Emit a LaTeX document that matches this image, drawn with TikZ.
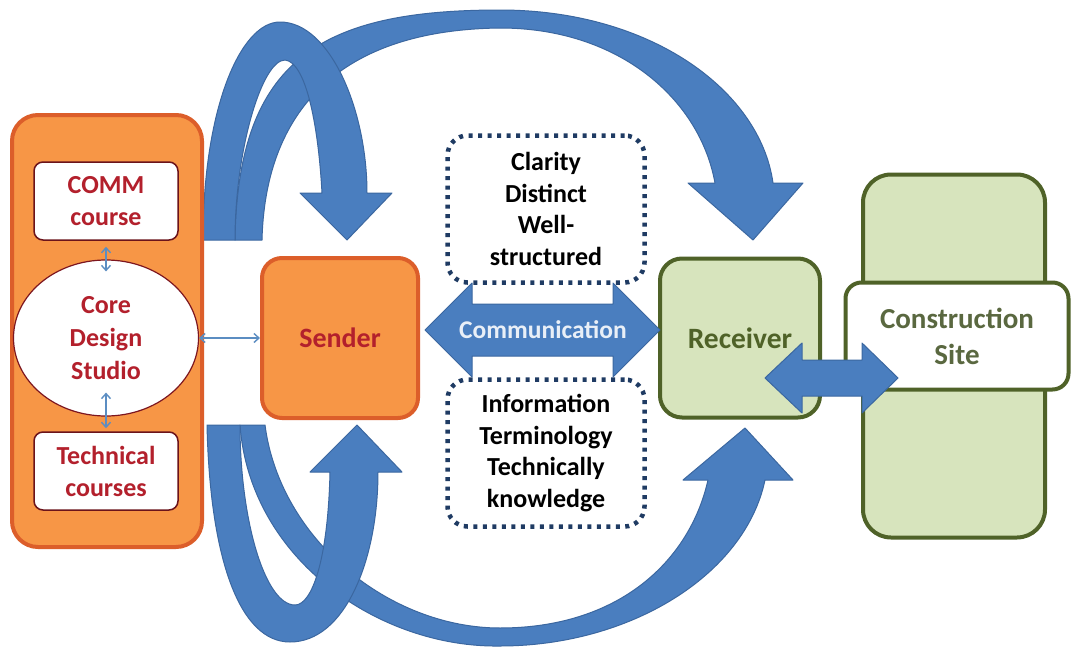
\documentclass[tikz,border=0pt]{standalone}
\usepackage{fontspec}
\setmainfont{Carlito}
\usepackage{tikz}
\usetikzlibrary{arrows.meta,shapes.geometric}

\definecolor{boxorange}{HTML}{F79646}
\definecolor{orangeline}{HTML}{DC5E2A}
\definecolor{leafgreen}{HTML}{D7E4BD}
\definecolor{oliveline}{HTML}{4F6228}
\definecolor{arrowblue}{HTML}{4A7EBF}
\definecolor{arrowline}{HTML}{3B67A0}
\definecolor{thinblue}{HTML}{5B8DC2}
\definecolor{dotnavy}{HTML}{1F3B63}
\definecolor{textred}{HTML}{B3202C}
\definecolor{sitetext}{HTML}{5A6840}
\newcommand{\boxfont}[2]{\fontsize{#1}{#2}\selectfont\bfseries}

\begin{document}
\begin{tikzpicture}[x=1pt,y=-1pt,>={Straight Barb[length=5pt,width=9pt]},
    bluearrow/.style={fill=arrowblue,draw=arrowline,line width=1pt,line join=round},
    thinarrow/.style={<->,draw=thinblue,line width=1.4pt},
    coursebox/.style={draw=textred!60!black,fill=white,rounded corners=9pt,line width=1.5pt,
      minimum width=144pt,minimum height=78pt,align=center,text=textred,font=\boxfont{26}{32}},
    notebox/.style={draw=dotnavy,line width=4.5pt,dash pattern=on 4pt off 5.5pt,rounded corners=20pt,
      minimum width=197pt,minimum height=147pt,align=center,font=\boxfont{26}{31.5}},
    greenbox/.style={draw=oliveline,fill=leafgreen,line width=4pt,rounded corners=22pt}]
  \fill[white] (0,0) rectangle (1072,648);
  \useasboundingbox (0,0) rectangle (1072,648);

  % big loop over the top, towards the receiver
  \filldraw[bluearrow] (235,240) .. controls (238,60) and (320,10) .. (500,10)
    .. controls (650,10) and (760,90) .. (773,183) -- (803,183) -- (753,240) -- (688,183) -- (715,183)
    .. controls (700,100) and (620,28) .. (500,28)
    .. controls (330,30) and (265,120) .. (262,240) -- cycle;
  % small curl down onto the sender
  \filldraw[bluearrow] (203,240) .. controls (203,110) and (240,22) .. (280,22)
    .. controls (330,22) and (367,110) .. (367,193) -- (392,193) -- (347,240) -- (300,193) -- (322,193)
    .. controls (318,120) and (305,62) .. (285,60)
    .. controls (262,60) and (235,150) .. (235,240) -- cycle;

  % big loop under the bottom, towards the receiver
  \filldraw[bluearrow] (240,425) .. controls (250,560) and (380,648) .. (500,646)
    .. controls (630,646) and (745,575) .. (765,480) -- (793,480) -- (745,428) -- (683,480) -- (708,480)
    .. controls (690,560) and (620,628) .. (500,628)
    .. controls (390,628) and (280,540) .. (265,425) -- cycle;
  % small curl up into the sender
  \filldraw[bluearrow] (207,425) .. controls (210,560) and (240,642) .. (290,642)
    .. controls (345,642) and (378,560) .. (378,472) -- (402,472) -- (357,425) -- (310,472) -- (330,472)
    .. controls (328,560) and (312,605) .. (295,605)
    .. controls (265,605) and (240,520) .. (240,425) -- cycle;

  % left column
  \node[draw=orangeline,fill=boxorange,line width=4pt,rounded corners=26pt,
    minimum width=190pt,minimum height=432pt] (studio) at (107,331) {};
  \node[coursebox] (comm) at (106,201) {COMM\\course};
  \node[ellipse,draw=textred!70!black,fill=white,line width=1.2pt,minimum width=185pt,minimum height=156pt,
    inner sep=0pt,align=center,text=textred,font=\boxfont{26}{33}] (core) at (106,338) {Core\\Design\\Studio};
  \node[coursebox] (tech) at (106,471) {Technical\\courses};

  \node[draw=orangeline,fill=boxorange,line width=4pt,rounded corners=20pt,minimum width=156pt,
    minimum height=160pt,text=textred,font=\boxfont{28}{34}] (sender) at (340,338) {Sender};

  \node[notebox] (upper) at (546,209) {Clarity\\Distinct\\Well-\\structured};
  \node[notebox] (lower) at (546,453) {Information\\Terminology\\Technically\\knowledge};

  \node[greenbox,minimum width=160pt,minimum height=159pt,text=oliveline,
    font=\boxfont{29.5}{35}] (receiver) at (740,338) {Receiver};
  \node[greenbox,rounded corners=28pt,minimum width=182pt,minimum height=363pt] (sitecol) at (954,356) {};
  \node[greenbox,fill=white,rounded corners=16pt,minimum width=223pt,minimum height=107pt,align=center,
    text=sitetext,font=\boxfont{29}{36}] (site) at (957,336) {Construction\\Site};

  % communication channel
  \filldraw[bluearrow] (425,330) -- (472,283) -- (472,304) -- (613,304) -- (613,283) -- (660,330)
    -- (613,377) -- (613,356) -- (472,356) -- (472,377) -- cycle;
  \node[text=white!88!arrowblue,font=\boxfont{25.5}{30}] (channel) at (543,330) {Communication};

  % receiver <-> site
  \filldraw[bluearrow] (765,378) -- (802,343) -- (802,360) -- (862,360) -- (862,343) -- (898,378)
    -- (862,413) -- (862,396) -- (802,396) -- (802,413) -- cycle;

  \draw[thinarrow,shorten <=6pt,shorten >=-12pt] (comm) -- (core);
  \draw[thinarrow,shorten <=-24pt,shorten >=3pt] (core) -- (tech);
  \draw[thinarrow] (core) -- (sender);
\end{tikzpicture}
\end{document}
